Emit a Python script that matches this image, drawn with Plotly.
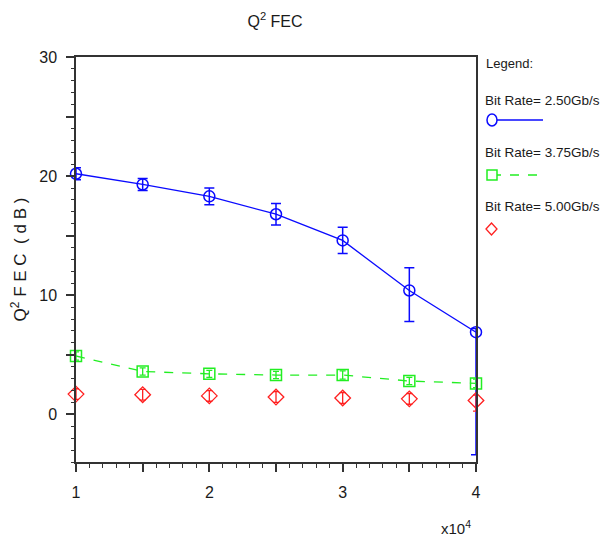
import plotly.graph_objects as go

# ---------------- data ----------------
distance = [1.0, 1.5, 2.0, 2.5, 3.0, 3.5, 4.0]          # x (x10^4)
q2_250 = [20.2, 19.3, 18.3, 16.8, 14.6, 10.4, 6.9]
err_250_plus = [0.5, 0.5, 0.7, 0.9, 1.1, 1.9, 0.3]
err_250_minus = [0.5, 0.5, 0.7, 0.9, 1.1, 2.6, 10.3]
q2_375 = [4.9, 3.6, 3.4, 3.3, 3.3, 2.8, 2.6]
err_375 = [0.35, 0.3, 0.3, 0.3, 0.35, 0.3, 0.35]
q2_500 = [1.7, 1.65, 1.55, 1.45, 1.37, 1.3, 1.17]
err_500_plus = [0.45, 0.45, 0.45, 0.45, 0.45, 0.45, 0.45]
err_500_minus = [0.45, 0.45, 0.45, 0.45, 0.45, 0.45, 0.9]

series_names = ["Bit Rate= 2.50Gb/s", "Bit Rate= 3.75Gb/s", "Bit Rate= 5.00Gb/s"]
x_tickvals = [1, 1.5, 2, 2.5, 3, 3.5, 4]
x_ticktext = ["1", "", "2", "", "3", "", "4"]
y_tickvals = [-5, 0, 5, 10, 15, 20, 25, 30]
y_ticktext = ["", "0", "", "10", "", "20", "", "30"]

BLUE = "#0a0aff"
GREEN = "#22ee22"
RED = "#ff2020"
AX = "#333333"
TXT = "#1a1a1a"
FONT = "Liberation Sans, Arial, sans-serif"

fig = go.Figure()

fig.add_trace(go.Scatter(
    x=distance, y=q2_250, mode="lines+markers", name=series_names[0],
    line=dict(color=BLUE, width=1.3),
    marker=dict(symbol="circle-open", size=11, color=BLUE, line=dict(width=1.5)),
    error_y=dict(type="data", symmetric=False, array=err_250_plus,
                 arrayminus=err_250_minus, color=BLUE, thickness=1.5, width=5),
    cliponaxis=False,
))
fig.add_trace(go.Scatter(
    x=distance, y=q2_375, mode="lines+markers", name=series_names[1],
    line=dict(color=GREEN, width=1.3, dash="dash"),
    marker=dict(symbol="square-open", size=11, color=GREEN, line=dict(width=1.5)),
    error_y=dict(type="data", array=err_375, color=GREEN, thickness=1.3, width=3),
    cliponaxis=False,
))
fig.add_trace(go.Scatter(
    x=distance, y=q2_500, mode="markers", name=series_names[2],
    marker=dict(symbol="diamond-open", size=12, color=RED, line=dict(width=1.3)),
    error_y=dict(type="data", symmetric=False, array=err_500_plus,
                 arrayminus=err_500_minus, color=RED, thickness=1.3, width=3),
    cliponaxis=False,
))

# page offset of the figure inside the browser window (default body margin)
OX, OY = 8, 7
# plot area geometry in window pixels (for decoration placement)
L, R, T, B = 76, 476, 56, 461
W, H = 600, 533


def px(xp):
    return (xp - L) / (R - L)


def py(yp):
    return (B - yp) / (B - T)


shapes = []
annotations = []

# custom legend
annotations.append(dict(text="Legend:", x=px(484), y=py(63), xref="paper", yref="paper",
                        xanchor="left", yanchor="middle", showarrow=False,
                        font=dict(size=13, color=TXT, family=FONT)))
legend_text_y = [100, 151, 205]
legend_sym_y = [119, 174, 228]
for name, ty in zip(series_names, legend_text_y):
    annotations.append(dict(text=name, x=px(483), y=py(ty), xref="paper", yref="paper",
                            xanchor="left", yanchor="middle", showarrow=False,
                            font=dict(size=13.5, color=TXT, family=FONT)))

# blue: circle + solid line
cy = legend_sym_y[0]
shapes.append(dict(type="line", xref="paper", yref="paper", x0=px(492), x1=px(543),
                   y0=py(cy), y1=py(cy), line=dict(color=BLUE, width=1.5)))
shapes.append(dict(type="circle", xref="paper", yref="paper", x0=px(487), x1=px(497),
                   y0=py(cy - 6), y1=py(cy + 6), line=dict(color=BLUE, width=1.5),
                   fillcolor="white"))
# green: square + dashed line
cy = legend_sym_y[1]
shapes.append(dict(type="line", xref="paper", yref="paper", x0=px(492), x1=px(543),
                   y0=py(cy), y1=py(cy), line=dict(color=GREEN, width=1.5, dash="dash")))
shapes.append(dict(type="rect", xref="paper", yref="paper", x0=px(487), x1=px(497),
                   y0=py(cy - 5), y1=py(cy + 5), line=dict(color=GREEN, width=1.5),
                   fillcolor="white"))
# red: diamond only
cy = legend_sym_y[2]
x0, x1, xc = px(486), px(497), px(491.5)
y0, y1, yc = py(cy + 6), py(cy - 6), py(cy)
shapes.append(dict(type="path", xref="paper", yref="paper",
                   path=f"M {x0} {yc} L {xc} {y1} L {x1} {yc} L {xc} {y0} Z",
                   line=dict(color=RED, width=1.3), fillcolor="white"))

# x10^4 exponent label
annotations.append(dict(text="x10<sup>4</sup>", x=px(456), y=py(526), xref="paper", yref="paper",
                        xanchor="center", yanchor="middle", showarrow=False,
                        font=dict(size=15, color=TXT, family=FONT)))

fig.update_layout(
    width=W, height=H,
    margin=dict(l=L - OX, r=W - (R - OX), t=T - OY, b=H - (B - OY), autoexpand=False),
    paper_bgcolor="white", plot_bgcolor="white",
    showlegend=False,
    font=dict(family=FONT, color=TXT),
    title=dict(text="Q<sup>2</sup> FEC", x=(275 - OX) / W, xanchor="center",
               y=1 - (20 - OY) / H, yanchor="middle", yref="container",
               font=dict(size=16, color=TXT, family=FONT)),
    xaxis=dict(range=[1, 4], tickvals=x_tickvals, ticktext=x_ticktext,
               ticks="outside", ticklen=8, tickwidth=1.5, tickcolor=AX,
               minor=dict(dtick=0.1, ticks="outside", ticklen=4, tickwidth=1.2, tickcolor=AX),
               showline=True, linecolor=AX, linewidth=1.5, mirror=True,
               showgrid=False, zeroline=False,
               tickfont=dict(size=16, color=TXT), ticklabelstandoff=7),
    yaxis=dict(range=[-4, 30], tickvals=y_tickvals, ticktext=y_ticktext,
               ticks="outside", ticklen=8, tickwidth=1.5, tickcolor=AX,
               minor=dict(dtick=1, ticks="outside", ticklen=3, tickwidth=1.2, tickcolor=AX),
               showline=True, linecolor=AX, linewidth=1.5, mirror=True,
               showgrid=False, zeroline=False,
               tickfont=dict(size=16, color=TXT), ticklabelstandoff=6,
               title=dict(text="Q<sup>2</sup> F E C  ( d B )", standoff=18,
                          font=dict(size=17, color=TXT))),
    shapes=shapes,
    annotations=annotations,
)

fig.write_html("out.html")
